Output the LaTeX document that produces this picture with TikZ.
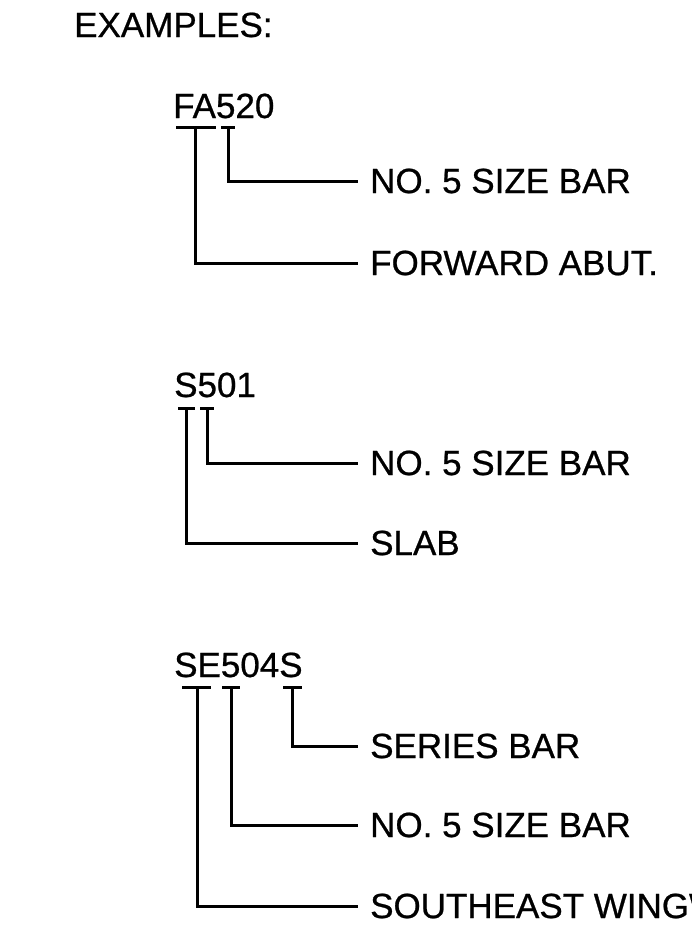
\documentclass[tikz,border=0pt]{standalone}
\usepackage{fontspec}
\setmainfont{Liberation Sans}[BoldFont={Liberation Sans}, BoldFeatures={FakeBold=0.7}]
\usepackage{tikz}
\tikzset{
  heading/.style={anchor=base west, inner sep=0pt, font=\fontsize{35}{40}\selectfont\bfseries},
  barcode/.style={anchor=base west, inner sep=0pt, font=\fontsize{35}{40}\selectfont\bfseries},
  callout/.style={anchor=west, inner xsep=12pt, inner ysep=0pt, font=\fontsize{35}{40}\selectfont\bfseries},
  leader/.style={line width=3pt, draw=black},
  underbar/.style={line width=3pt, draw=black}
}

\begin{document}
\begin{tikzpicture}[x=1pt, y=-1pt]
  \useasboundingbox (0,0) rectangle (692,937);
  \clip (0,0) rectangle (692,937);

  \node[heading] (head) at (74,37) {EXAMPLES:};

  \node[barcode] (fa520) at (173,118) {FA520};
  \coordinate (fa1) at (195,127);
  \coordinate (fa2) at (228,127);
  \node[callout] (fasize) at (358,181) {NO. 5 SIZE BAR};
  \node[callout] (faabut) at (358,263) {FORWARD ABUT.};
  \draw[underbar] (fa1) ++(-19,0) -- ++(40,0);
  \draw[underbar] (fa2) ++(-7,0) -- ++(14,0);
  \draw[leader] (fa2) |- (fasize.west);
  \draw[leader] (fa1) |- (faabut.west);

  \node[barcode] (s501) at (174,397) {S501};
  \coordinate (s1) at (186,408);
  \coordinate (s2) at (207,408);
  \node[callout] (ssize) at (358,463) {NO. 5 SIZE BAR};
  \node[callout] (sslab) at (358,543) {SLAB};
  \draw[underbar] (s1) ++(-8,0) -- ++(17,0);
  \draw[underbar] (s2) ++(-7,0) -- ++(14,0);
  \draw[leader] (s2) |- (ssize.west);
  \draw[leader] (s1) |- (sslab.west);

  \node[barcode] (se504s) at (174,677) {SE504S};
  \coordinate (se1) at (197,687);
  \coordinate (se2) at (231,687);
  \coordinate (se3) at (292,687);
  \node[callout] (seseries) at (358,746) {SERIES BAR};
  \node[callout] (sesize) at (358,825) {NO. 5 SIZE BAR};
  \node[callout] (sewing) at (358,906) {SOUTHEAST WINGW};
  \draw[underbar] (se1) ++(-15,0) -- ++(29,0);
  \draw[underbar] (se2) ++(-9,0) -- ++(18,0);
  \draw[underbar] (se3) ++(-9,0) -- ++(19,0);
  \draw[leader] (se3) |- (seseries.west);
  \draw[leader] (se2) |- (sesize.west);
  \draw[leader] (se1) |- (sewing.west);
\end{tikzpicture}
\end{document}
